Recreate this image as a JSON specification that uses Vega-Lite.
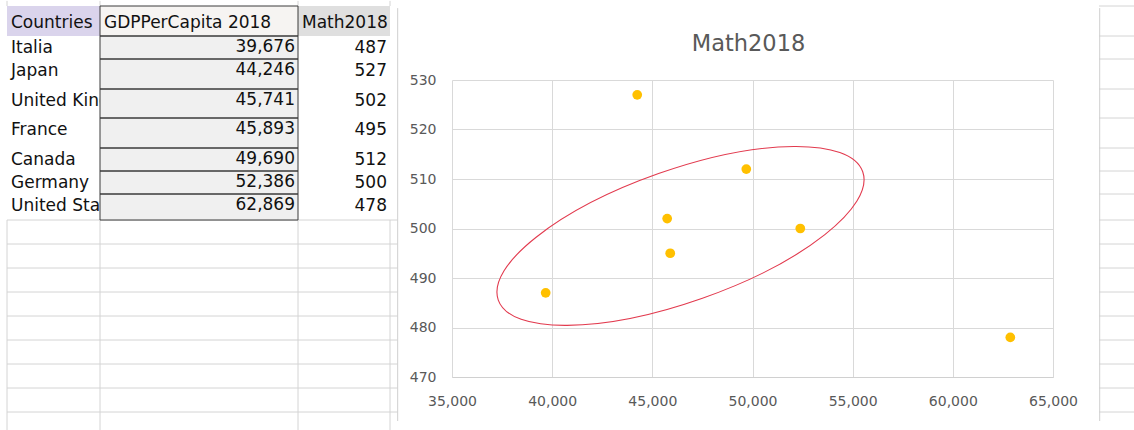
{
  "$schema": "https://vega.github.io/schema/vega-lite/v6.json",
  "padding": 0,
  "background": "white",
  "config": {"view": {"stroke": null}, "font": "DejaVu Sans"},
  "datasets": {
    "countries": [
      {"country": "Italia", "gdp": 39676, "math": 487, "r": 1},
      {"country": "Japan", "gdp": 44246, "math": 527, "r": 2},
      {"country": "United Kingdom", "gdp": 45741, "math": 502, "r": 3},
      {"country": "France", "gdp": 45893, "math": 495, "r": 4},
      {"country": "Canada", "gdp": 49690, "math": 512, "r": 5},
      {"country": "Germany", "gdp": 52386, "math": 500, "r": 6},
      {"country": "United States", "gdp": 62869, "math": 478, "r": 7}
    ],
    "header": [
      {"label": "Countries", "c": 0, "r": 0},
      {"label": "GDPPerCapita 2018", "c": 1, "r": 0},
      {"label": "Math2018", "c": 2, "r": 0}
    ],
    "cells": [
      {"kind": "hdrA", "c": 0, "c2": 1, "r": 0, "r2": 1},
      {"kind": "hdrB", "c": 1, "c2": 2, "r": 0, "r2": 1},
      {"kind": "hdrC", "c": 2, "c2": 3, "r": 0, "r2": 1},
      {"kind": "cellB", "c": 1, "c2": 2, "r": 1, "r2": 2},
      {"kind": "cellB", "c": 1, "c2": 2, "r": 2, "r2": 3},
      {"kind": "cellB", "c": 1, "c2": 2, "r": 3, "r2": 4},
      {"kind": "cellB", "c": 1, "c2": 2, "r": 4, "r2": 5},
      {"kind": "cellB", "c": 1, "c2": 2, "r": 5, "r2": 6},
      {"kind": "cellB", "c": 1, "c2": 2, "r": 6, "r2": 7},
      {"kind": "cellB", "c": 1, "c2": 2, "r": 7, "r2": 8}
    ],
    "hlines": [{"r": 8}, {"r": 9}, {"r": 10}, {"r": 11}, {"r": 12}, {"r": 13}, {"r": 14}, {"r": 15}, {"r": 16}],
    "vlines": [{"c": 0}, {"c": 1}, {"c": 2}, {"c": 3}],
    "stripLines": [{"r": 0}, {"r": 1}, {"r": 2}, {"r": 3}, {"r": 4}, {"r": 5}, {"r": 6}, {"r": 7}, {"r": 8}, {"r": 9}, {"r": 10}, {"r": 11}, {"r": 12}, {"r": 13}, {"r": 14}, {"r": 15}, {"r": 16}],
    "ellipse": [{"cx": 46406, "cy": 498.5}]
  },
  "spacing": 10,
  "hconcat": [
    {
      "width": 398,
      "height": 351,
      "layer": [
        {
          "data": {"name": "vlines"},
          "mark": {"type": "rule", "color": "#D4D4D4", "strokeWidth": 1},
          "encoding": {
            "x": {"field": "c", "type": "quantitative", "axis": null, "scale": {"type": "linear", "domain": [0, 1, 2, 3, 4], "range": [7, 100, 298, 390, 486], "nice": false, "zero": false}},
            "y": {"datum": 8, "type": "quantitative", "axis": null, "scale": {"type": "linear", "domain": [0, 1, 2, 3, 4, 5, 6, 7, 8, 9, 10, 11, 12, 13, 14, 15, 16], "range": [-74, -44, -21, 9, 38, 68, 91, 114, 140, 164, 188, 212, 236, 260, 284, 308, 332], "nice": false, "zero": false}},
            "y2": {"datum": 16.75}
          }
        },
        {
          "data": {"name": "vlines"},
          "mark": {"type": "rule", "color": "#D4D4D4", "strokeWidth": 1},
          "encoding": {
            "x": {"field": "c", "type": "quantitative"},
            "y": {"datum": -0.17, "type": "quantitative"},
            "y2": {"datum": 0}
          }
        },
        {
          "data": {"name": "hlines"},
          "mark": {"type": "rule", "color": "#D4D4D4", "strokeWidth": 1},
          "encoding": {
            "y": {"field": "r", "type": "quantitative"},
            "x": {"datum": 0, "type": "quantitative"},
            "x2": {"datum": 3.08}
          }
        },
        {
          "data": {"name": "cells"},
          "transform": [{"filter": "datum.kind === 'hdrA'"}],
          "mark": {"type": "rect", "opacity": 1},
          "encoding": {
            "x": {"field": "c", "type": "quantitative"},
            "x2": {"field": "c2"},
            "y": {"field": "r", "type": "quantitative"},
            "y2": {"field": "r2"},
            "color": {"field": "kind", "type": "nominal", "legend": null, "scale": {"domain": ["hdrA", "hdrB", "hdrC", "cellB"], "range": ["#DAD4EC", "#F6F4F2", "#DFDFDF", "#F0F0F0"]}}
          }
        },
        {
          "data": {"name": "countries"},
          "mark": {"type": "text", "align": "left", "baseline": "middle", "dx": 4, "dy": 12, "fontSize": 17, "color": "#111111"},
          "encoding": {
            "x": {"datum": 0, "type": "quantitative"},
            "y": {"field": "r", "type": "quantitative"},
            "text": {"field": "country"}
          }
        },
        {
          "data": {"name": "cells"},
          "transform": [{"filter": "datum.kind !== 'hdrA'"}],
          "mark": {"type": "rect", "opacity": 1},
          "encoding": {
            "x": {"field": "c", "type": "quantitative"},
            "x2": {"field": "c2"},
            "y": {"field": "r", "type": "quantitative"},
            "y2": {"field": "r2"},
            "color": {"field": "kind", "type": "nominal", "legend": null}
          }
        },
        {
          "data": {"name": "cells"},
          "transform": [{"filter": "datum.kind === 'hdrB' || datum.kind === 'cellB'"}],
          "mark": {"type": "rect", "filled": false, "stroke": "#3A3A3A", "strokeWidth": 1, "opacity": 1},
          "encoding": {
            "x": {"field": "c", "type": "quantitative"},
            "x2": {"field": "c2"},
            "y": {"field": "r", "type": "quantitative"},
            "y2": {"field": "r2"}
          }
        },
        {
          "data": {"name": "header"},
          "mark": {"type": "text", "align": "left", "baseline": "middle", "dx": 4, "dy": 17, "fontSize": 17, "color": "#111111"},
          "encoding": {
            "x": {"field": "c", "type": "quantitative"},
            "y": {"field": "r", "type": "quantitative"},
            "text": {"field": "label"}
          }
        },
        {
          "data": {"name": "countries"},
          "mark": {"type": "text", "align": "right", "baseline": "middle", "dx": -3, "dy": 11, "fontSize": 17, "color": "#111111"},
          "encoding": {
            "x": {"datum": 2, "type": "quantitative"},
            "y": {"field": "r", "type": "quantitative"},
            "text": {"field": "gdp", "type": "quantitative", "format": ",d"}
          }
        },
        {
          "data": {"name": "countries"},
          "mark": {"type": "text", "align": "right", "baseline": "middle", "dx": -3, "dy": 12, "fontSize": 17, "color": "#111111"},
          "encoding": {
            "x": {"datum": 3, "type": "quantitative"},
            "y": {"field": "r", "type": "quantitative"},
            "text": {"field": "math", "type": "quantitative", "format": "d"}
          }
        },
        {
          "data": {"values": [{}]},
          "mark": {"type": "rule", "color": "#CFCFCF", "strokeWidth": 1},
          "encoding": {
            "x": {"datum": 3.08, "type": "quantitative"},
            "y": {"datum": 0.07, "type": "quantitative"},
            "y2": {"datum": 16.375}
          }
        }
      ]
    },
    {
      "spacing": 20,
      "hconcat": [
        {
          "width": 601,
          "height": 297,
          "title": {"text": "Math2018", "font": "DejaVu Sans", "fontSize": 22.5, "fontWeight": "normal", "color": "#595959", "offset": 18, "anchor": "middle", "dx": -4},
          "layer": [
            {
              "data": {"name": "countries"},
              "mark": {"type": "point", "filled": true, "color": "#FFC000", "size": 95, "opacity": 1},
              "encoding": {
                "x": {"field": "gdp", "type": "quantitative", "scale": {"domain": [35000, 65000], "nice": false, "zero": false},
                  "axis": {"title": null, "values": [35000, 40000, 45000, 50000, 55000, 60000, 65000], "format": ",d", "grid": true, "gridColor": "#D9D9D9", "domain": true, "domainColor": "#D0D0D0", "ticks": false, "tickSize": 0, "labelPadding": 17, "labelFont": "DejaVu Sans", "labelFontSize": 14, "labelColor": "#595959", "labelFlush": false, "labelOverlap": false}},
                "y": {"field": "math", "type": "quantitative", "scale": {"domain": [470, 530], "nice": false, "zero": false},
                  "axis": {"title": null, "values": [470, 480, 490, 500, 510, 520, 530], "format": "d", "grid": true, "gridColor": "#D9D9D9", "domain": false, "ticks": false, "tickSize": 0, "labelPadding": 16, "labelFont": "DejaVu Sans", "labelFontSize": 14, "labelColor": "#595959", "labelOverlap": false}}
              }
            },
            {
              "data": {"name": "ellipse"},
              "mark": {"type": "point", "shape": "M-1,0C-1,-0.189,-0.552,-0.342,0,-0.342C0.552,-0.342,1,-0.189,1,0C1,0.189,0.552,0.342,0,0.342C-0.552,0.342,-1,0.189,-1,0Z", "size": 149305, "angle": 340.6, "filled": false, "stroke": "#E23A4E", "strokeWidth": 1.1, "opacity": 1},
              "encoding": {
                "x": {"field": "cx", "type": "quantitative"},
                "y": {"field": "cy", "type": "quantitative"}
              }
            }
          ]
        },
        {
          "width": 35,
          "height": 351,
          "layer": [
            {
              "data": {"name": "stripLines"},
              "mark": {"type": "rule", "color": "#D4D4D4", "strokeWidth": 1},
              "encoding": {
                "y": {"field": "r", "type": "quantitative", "axis": null, "scale": {"type": "linear", "domain": [0, 1, 2, 3, 4, 5, 6, 7, 8, 9, 10, 11, 12, 13, 14, 15, 16], "range": [-74, -44, -21, 9, 38, 68, 91, 114, 140, 164, 188, 212, 236, 260, 284, 308, 332], "nice": false, "zero": false}},
                "x": {"datum": 0, "type": "quantitative", "axis": null, "scale": {"domain": [0, 1], "nice": false, "zero": false}},
                "x2": {"datum": 1}
              }
            },
            {
              "data": {"values": [{}]},
              "mark": {"type": "rule", "color": "#CFCFCF", "strokeWidth": 1},
              "encoding": {
                "x": {"datum": 0.02, "type": "quantitative"},
                "y": {"datum": 0.07, "type": "quantitative"},
                "y2": {"datum": 16.375}
              }
            }
          ]
        }
      ]
    }
  ]
}
